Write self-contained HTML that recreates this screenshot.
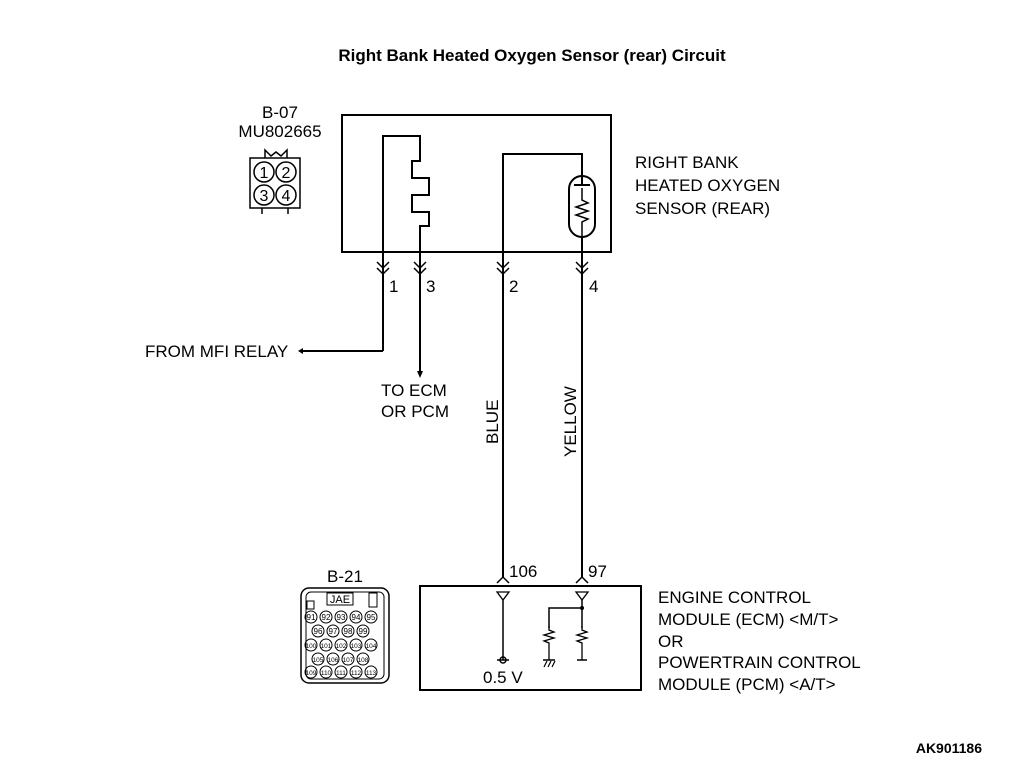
<!DOCTYPE html>
<html><head><meta charset="utf-8"><style>
html,body{margin:0;padding:0;background:#fff;}
svg{display:block;}
text{font-family:"Liberation Sans",Arial,sans-serif;fill:#000;}
</style></head><body>
<svg width="1010" height="761" viewBox="0 0 1010 761" xmlns="http://www.w3.org/2000/svg">
<text x="532" y="61" font-size="17" font-weight="bold" text-anchor="middle">Right Bank Heated Oxygen Sensor (rear) Circuit</text>
<g fill="none" stroke="#000" stroke-width="2">
<rect x="342" y="115" width="269" height="137"/>
<polyline points="383,351 383,136 420,136 420,161 412,161 412,178 429,178 429,195 412,195 412,212 429,212 429,226 420,226 420,372"/>
<polyline points="300,351 383,351"/>
<polyline points="503,578 503,154 582,154 582,578"/>
<rect x="569" y="176" width="26" height="61" rx="13" fill="#fff"/>
<line x1="582" y1="154" x2="582" y2="185"/>
<line x1="574" y1="185" x2="590" y2="185"/>
<line x1="582" y1="237" x2="582" y2="252"/>
<polyline points="582,188 582,200 588,203 576,207 588,211 576,215 588,219 582,222 582,237" stroke-width="1.5"/>
<g stroke-width="1.5">
<polyline points="377,262 383,268 389,262"/><polyline points="377,268 383,274 389,268"/>
<polyline points="414,262 420,268 426,262"/><polyline points="414,268 420,274 426,268"/>
<polyline points="497,262 503,268 509,262"/><polyline points="497,268 503,274 509,268"/>
<polyline points="576,262 582,268 588,262"/><polyline points="576,268 582,274 588,268"/>
<polyline points="497,583 503,577 509,583"/><polyline points="576,583 582,577 588,583"/>
</g>
<rect x="420" y="586" width="221" height="104"/>
<line x1="503" y1="600" x2="503" y2="660" stroke-width="1.5"/>
<line x1="497" y1="660" x2="509" y2="660" stroke-width="1.5"/>
<circle cx="503" cy="660" r="3" stroke-width="1.5"/>
<polyline points="582,600 582,608 549,608 549,628" stroke-width="1.5"/>
<line x1="582" y1="608" x2="582" y2="628" stroke-width="1.5"/>
<polyline points="549,626 549,630 554,632 544,635 554,638 544,641 549,643 549,660" stroke-width="1.3"/>
<polyline points="582,626 582,630 587,632 577,635 587,638 577,641 582,643 582,660" stroke-width="1.3"/>
<line x1="543" y1="660" x2="555" y2="660" stroke-width="1.5"/>
<line x1="577" y1="660" x2="587" y2="660" stroke-width="1.5"/>
<g stroke-width="1.2"><line x1="544" y1="667" x2="547" y2="661"/><line x1="548" y1="667" x2="551" y2="661"/><line x1="552" y1="667" x2="555" y2="661"/></g>
<rect x="250" y="158" width="50" height="50" stroke-width="1.5"/>
<polyline points="265,158 265,150 271,156 276,152 281,156 287,150 287,158" stroke-width="1.5"/>
<line x1="262" y1="208" x2="262" y2="214" stroke-width="1.5"/><line x1="288" y1="208" x2="288" y2="214" stroke-width="1.5"/>
<circle cx="264" cy="172" r="10" stroke-width="1.5"/><circle cx="286" cy="172" r="10" stroke-width="1.5"/>
<circle cx="264" cy="195" r="10" stroke-width="1.5"/><circle cx="286" cy="195" r="10" stroke-width="1.5"/>
<rect x="301" y="588" width="88" height="95" rx="8" stroke-width="1.5"/>
<rect x="306" y="592" width="78" height="87" rx="5" stroke-width="1"/>
<rect x="327" y="593" width="26" height="12" stroke-width="1"/>
<rect x="307" y="601" width="7" height="8" stroke-width="1"/>
<rect x="369" y="593" width="8" height="14" stroke-width="1"/>
</g>
<g fill="#000">
<polygon points="298,351 303,348 303,354"/>
<polygon points="420,378 417,371 423,371"/>
<polygon points="497,592 509,592 503,600" fill="#fff" stroke="#000" stroke-width="1.3"/>
<polygon points="576,592 588,592 582,600" fill="#fff" stroke="#000" stroke-width="1.3"/>
<circle cx="582" cy="608" r="2"/>
</g>
<g fill="none" stroke="#000" stroke-width="1">
<circle cx="311" cy="617" r="6"/><circle cx="326" cy="617" r="6"/><circle cx="341" cy="617" r="6"/><circle cx="356" cy="617" r="6"/><circle cx="371" cy="617" r="6"/>
<circle cx="318" cy="631" r="6"/><circle cx="333" cy="631" r="6"/><circle cx="348" cy="631" r="6"/><circle cx="363" cy="631" r="6"/>
<circle cx="311" cy="645" r="6"/><circle cx="326" cy="645" r="6"/><circle cx="341" cy="645" r="6"/><circle cx="356" cy="645" r="6"/><circle cx="371" cy="645" r="6"/>
<circle cx="318" cy="659" r="6"/><circle cx="333" cy="659" r="6"/><circle cx="348" cy="659" r="6"/><circle cx="363" cy="659" r="6"/>
<circle cx="311" cy="672" r="6"/><circle cx="326" cy="672" r="6"/><circle cx="341" cy="672" r="6"/><circle cx="356" cy="672" r="6"/><circle cx="371" cy="672" r="6"/>
</g>
<g font-size="8" text-anchor="middle">
<text x="311" y="620">91</text><text x="326" y="620">92</text><text x="341" y="620">93</text><text x="356" y="620">94</text><text x="371" y="620">95</text>
<text x="318" y="634">96</text><text x="333" y="634">97</text><text x="348" y="634">98</text><text x="363" y="634">99</text>
<text x="311" y="648" font-size="6.5">100</text><text x="326" y="648" font-size="6.5">101</text><text x="341" y="648" font-size="6.5">102</text><text x="356" y="648" font-size="6.5">103</text><text x="371" y="648" font-size="6.5">104</text>
<text x="318" y="662" font-size="6.5">105</text><text x="333" y="662" font-size="6.5">106</text><text x="348" y="662" font-size="6.5">107</text><text x="363" y="662" font-size="6.5">108</text>
<text x="311" y="675" font-size="6.5">109</text><text x="326" y="675" font-size="6.5">110</text><text x="341" y="675" font-size="6.5">111</text><text x="356" y="675" font-size="6.5">112</text><text x="371" y="675" font-size="6.5">113</text>
<text x="340" y="603" font-size="11">JAE</text>
</g>
<g font-size="17">
<text x="280" y="118" text-anchor="middle">B-07</text>
<text x="280" y="137" text-anchor="middle">MU802665</text>
<g font-size="16" text-anchor="middle"><text x="264" y="178">1</text><text x="286" y="178">2</text><text x="264" y="201">3</text><text x="286" y="201">4</text></g>
<text x="635" y="168">RIGHT BANK</text>
<text x="635" y="191">HEATED OXYGEN</text>
<text x="635" y="214">SENSOR (REAR)</text>
<text x="389" y="292">1</text><text x="426" y="292">3</text><text x="509" y="292">2</text><text x="589" y="292">4</text>
<text x="145" y="357">FROM MFI RELAY</text>
<text x="381" y="396">TO ECM</text>
<text x="381" y="417">OR PCM</text>
<text transform="translate(498,444) rotate(-90)">BLUE</text>
<text transform="translate(576,457) rotate(-90)">YELLOW</text>
<text x="509" y="577">106</text><text x="588" y="577">97</text>
<text x="345" y="582" text-anchor="middle">B-21</text>
<text x="483" y="683">0.5 V</text>
<text x="658" y="603">ENGINE CONTROL</text>
<text x="658" y="625">MODULE (ECM) &lt;M/T&gt;</text>
<text x="658" y="647">OR</text>
<text x="658" y="668">POWERTRAIN CONTROL</text>
<text x="658" y="690">MODULE (PCM) &lt;A/T&gt;</text>
<text x="982" y="753" font-size="14" font-weight="bold" text-anchor="end">AK901186</text>
</g>
</svg>
</body></html>
